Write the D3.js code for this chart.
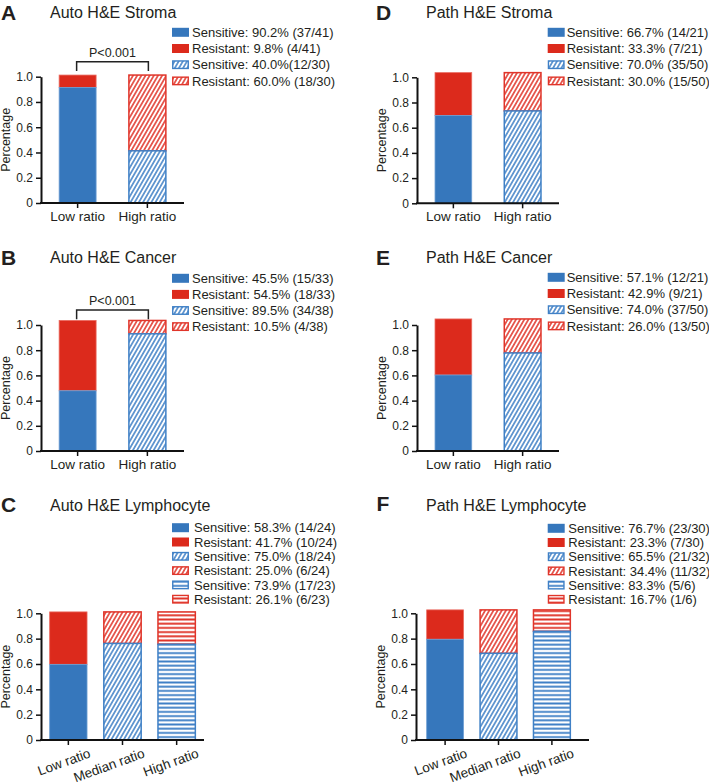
<!DOCTYPE html>
<html>
<head>
<meta charset="utf-8">
<script src="https://cdn.jsdelivr.net/npm/d3@7"></script>
<style>
  html, body { margin: 0; padding: 0; background: #ffffff; }
  svg { display: block; }
  text { font-family: "Liberation Sans", Arial, Helvetica, sans-serif; fill: #231f20; }
</style>
</head>
<body>
<svg id="chart" width="709" height="784"></svg>
<script>
// ---------------- DATA ----------------
const panelLetters = ["A", "B", "C", "D", "E", "F"];
const panelTitles = ["Auto H&E Stroma", "Auto H&E Cancer", "Auto H&E Lymphocyte",
                     "Path H&E Stroma", "Path H&E Cancer", "Path H&E Lymphocyte"];

const categoriesTwo = ["Low ratio", "High ratio"];
const categoriesThree = ["Low ratio", "Median ratio", "High ratio"];

// bar segment heights as drawn (fraction)
const sensitiveA = [0.915, 0.413];
const resistantA = [0.098, 0.600];
const sensitiveB = [0.478, 0.930];
const resistantB = [0.558, 0.106];
const sensitiveC = [0.597, 0.762, 0.756];
const resistantC = [0.414, 0.249, 0.255];
const sensitiveD = [0.697, 0.733];
const resistantD = [0.340, 0.304];
const sensitiveE = [0.603, 0.778];
const resistantE = [0.445, 0.270];
const sensitiveF = [0.795, 0.684, 0.858];
const resistantF = [0.232, 0.343, 0.169];

const legendA = ["Sensitive: 90.2% (37/41)", "Resistant: 9.8% (4/41)",
                 "Sensitive: 40.0%(12/30)", "Resistant: 60.0% (18/30)"];
const legendB = ["Sensitive: 45.5% (15/33)", "Resistant: 54.5% (18/33)",
                 "Sensitive: 89.5% (34/38)", "Resistant: 10.5% (4/38)"];
const legendC = ["Sensitive: 58.3% (14/24)", "Resistant: 41.7% (10/24)",
                 "Sensitive: 75.0% (18/24)", "Resistant: 25.0% (6/24)",
                 "Sensitive: 73.9% (17/23)", "Resistant: 26.1% (6/23)"];
const legendD = ["Sensitive: 66.7% (14/21)", "Resistant: 33.3% (7/21)",
                 "Sensitive: 70.0% (35/50)", "Resistant: 30.0% (15/50)"];
const legendE = ["Sensitive: 57.1% (12/21)", "Resistant: 42.9% (9/21)",
                 "Sensitive: 74.0% (37/50)", "Resistant: 26.0% (13/50)"];
const legendF = ["Sensitive: 76.7% (23/30)", "Resistant: 23.3% (7/30)",
                 "Sensitive: 65.5% (21/32)", "Resistant: 34.4% (11/32)",
                 "Sensitive: 83.3% (5/6)", "Resistant: 16.7% (1/6)"];

const yTicks = [0, 0.2, 0.4, 0.6, 0.8, 1.0];
const yTickLabels = ["0", "0.2", "0.4", "0.6", "0.8", "1.0"];
const yAxisTitle = "Percentage";
const pValueLabel = "P<0.001";

// ---------------- STYLE ----------------
const BLUE = "#3677bc";
const RED = "#dc2a1c";
const BLUE_LINE = "#3f80c6";
const RED_LINE = "#e0352a";

// ---------------- LAYOUT ----------------
const panels = [
  { letter: panelLetters[0], title: panelTitles[0], cats: categoriesTwo, sens: sensitiveA, res: resistantA, legend: legendA,
    letterPos: [1, 20], titlePos: [50, 18], axisX: 41, band: [41, 184], axisEnd: 184, y0: 203, y1: 76.7,
    legX: 172, legTextX: 192, legY: 32.3, legStep: 16.2, bracket: { y: 61.7, drop: 71, textY: 57 }, rotate: false },
  { letter: panelLetters[1], title: panelTitles[1], cats: categoriesTwo, sens: sensitiveB, res: resistantB, legend: legendB,
    letterPos: [1, 265], titlePos: [50, 263.3], axisX: 41, band: [41, 184], axisEnd: 184, y0: 451, y1: 325,
    legX: 172, legTextX: 192, legY: 278.3, legStep: 16.1, bracket: { y: 310, drop: 319.3, textY: 305 }, rotate: false },
  { letter: panelLetters[2], title: panelTitles[2], cats: categoriesThree, sens: sensitiveC, res: resistantC, legend: legendC,
    letterPos: [1, 511.5], titlePos: [50, 510.7], axisX: 41, band: [41, 204], axisEnd: 204, y0: 740, y1: 613.3,
    legX: 172, legTextX: 194, legY: 527.7, legStep: 14.3, bracket: null, rotate: true },
  { letter: panelLetters[3], title: panelTitles[3], cats: categoriesTwo, sens: sensitiveD, res: resistantD, legend: legendD,
    letterPos: [376, 20], titlePos: [426, 18], axisX: 417, band: [417, 559], axisEnd: 559, y0: 203.3, y1: 77.3,
    legX: 547.7, legTextX: 566.7, legY: 32.3, legStep: 16.2, bracket: null, rotate: false },
  { letter: panelLetters[4], title: panelTitles[4], cats: categoriesTwo, sens: sensitiveE, res: resistantE, legend: legendE,
    letterPos: [376, 265], titlePos: [426, 263], axisX: 417, band: [417, 559], axisEnd: 559, y0: 451, y1: 325,
    legX: 547.7, legTextX: 566.7, legY: 277.3, legStep: 16.2, bracket: null, rotate: false },
  { letter: panelLetters[5], title: panelTitles[5], cats: categoriesThree, sens: sensitiveF, res: resistantF, legend: legendF,
    letterPos: [376.5, 510.5], titlePos: [426, 510.7], axisX: 416, band: [416, 581], axisEnd: 589, y0: 740, y1: 613.3,
    legX: 547.7, legTextX: 568.3, legY: 528.3, legStep: 14.2, bracket: null, rotate: true }
];

const svg = d3.select("#chart");
svg.append("rect").attr("width", 709).attr("height", 784).attr("fill", "#fff");

// ---------------- PATTERNS ----------------
const defs = svg.append("defs");
function diagPattern(id, color) {
  const p = defs.append("pattern").attr("id", id).attr("patternUnits", "userSpaceOnUse")
    .attr("width", 3.6).attr("height", 8).attr("patternTransform", "rotate(30)");
  p.append("rect").attr("width", 3.6).attr("height", 8).attr("fill", "#fff");
  p.append("line").attr("x1", 1.8).attr("x2", 1.8).attr("y1", 0).attr("y2", 8)
    .attr("stroke", color).attr("stroke-width", 1.5);
}
function horizPattern(id, color) {
  const p = defs.append("pattern").attr("id", id).attr("patternUnits", "userSpaceOnUse")
    .attr("width", 8).attr("height", 4.2);
  p.append("rect").attr("width", 8).attr("height", 4.2).attr("fill", "#fff");
  p.append("line").attr("x1", 0).attr("x2", 8).attr("y1", 2.1).attr("y2", 2.1)
    .attr("stroke", color).attr("stroke-width", 1.9);
}
diagPattern("diagBlue", BLUE_LINE);
diagPattern("diagRed", RED_LINE);
horizPattern("horizBlue", BLUE_LINE);
horizPattern("horizRed", RED_LINE);

const styles = [
  { sensFill: BLUE, resFill: RED, sensStroke: "#6e9fd4", resStroke: "#ea6a5f", sw: 0.8 },
  { sensFill: "url(#diagBlue)", resFill: "url(#diagRed)", sensStroke: BLUE_LINE, resStroke: RED_LINE, sw: 1.5 },
  { sensFill: "url(#horizBlue)", resFill: "url(#horizRed)", sensStroke: BLUE_LINE, resStroke: RED_LINE, sw: 1.5 }
];

// ---------------- DRAW ----------------
panels.forEach(pn => {
  const g = svg.append("g");

  // letter + title
  g.append("text").attr("x", pn.letterPos[0]).attr("y", pn.letterPos[1])
    .attr("font-size", 21).attr("font-weight", "bold").text(pn.letter);
  g.append("text").attr("x", pn.titlePos[0]).attr("y", pn.titlePos[1])
    .attr("font-size", 16).text(pn.title);

  const x = d3.scaleBand().domain(pn.cats).range(pn.band)
    .paddingInner(pn.cats.length === 2 ? 0.47 : 0.31)
    .paddingOuter(pn.cats.length === 2 ? 0.26 : (pn.letter === "F" ? 0.2 : 0.16));
  const y = d3.scaleLinear().domain([0, 1]).range([pn.y0, pn.y1]);

  // bars
  pn.cats.forEach((c, i) => {
    const st = styles[i];
    const s = pn.sens[i], r = pn.res[i];
    g.append("rect").attr("x", x(c)).attr("width", x.bandwidth())
      .attr("y", y(s + r)).attr("height", y(s) - y(s + r))
      .attr("fill", st.resFill).attr("stroke", st.resStroke).attr("stroke-width", st.sw);
    g.append("rect").attr("x", x(c)).attr("width", x.bandwidth())
      .attr("y", y(s)).attr("height", y(0) - y(s))
      .attr("fill", st.sensFill).attr("stroke", st.sensStroke).attr("stroke-width", st.sw);
  });

  // y axis
  const ya = g.append("g").attr("transform", `translate(${pn.axisX},0)`)
    .call(d3.axisLeft(y).tickValues(yTicks).tickFormat((d, i) => yTickLabels[i])
      .tickSize(5).tickSizeOuter(0).tickPadding(3));
  ya.select(".domain").attr("stroke", "#111").attr("stroke-width", 2);
  ya.selectAll(".tick line").attr("stroke", "#111").attr("stroke-width", 1.5);
  ya.selectAll(".tick text").attr("font-size", 12).attr("fill", "#231f20");

  // y title
  g.append("text").attr("transform", `translate(${pn.axisX - 31.5},${(pn.y0 + pn.y1) / 2}) rotate(-90)`)
    .attr("text-anchor", "middle").attr("font-size", 12.5).text(yAxisTitle);

  // x axis
  const xa = g.append("g").attr("transform", `translate(0,${pn.y0})`)
    .call(d3.axisBottom(x).tickSize(5).tickSizeOuter(0).tickPadding(3.5));
  xa.select(".domain").remove();
  xa.selectAll(".tick line").attr("stroke", "#111").attr("stroke-width", 1.5);
  xa.selectAll(".tick text").attr("font-size", 13.5).attr("fill", "#231f20");
  if (pn.rotate) {
    xa.selectAll(".tick text")
      .attr("text-anchor", "end").attr("x", 0).attr("y", 0).attr("dy", 0)
      .attr("transform", "translate(23,17) rotate(-20)");
  }
  g.append("line").attr("x1", pn.axisX - 1).attr("x2", pn.axisEnd)
    .attr("y1", pn.y0).attr("y2", pn.y0).attr("stroke", "#111").attr("stroke-width", 2);

  // significance bracket
  if (pn.bracket) {
    const xa0 = x(pn.cats[0]) + x.bandwidth() / 2 - 1;
    const xa1 = x(pn.cats[1]) + x.bandwidth() / 2 + 1;
    g.append("path")
      .attr("d", `M${xa0},${pn.bracket.drop}V${pn.bracket.y}H${xa1}V${pn.bracket.drop}`)
      .attr("fill", "none").attr("stroke", "#222").attr("stroke-width", 1.5);
    g.append("text").attr("x", (xa0 + xa1) / 2).attr("y", pn.bracket.textY)
      .attr("text-anchor", "middle").attr("font-size", 12.5).text(pValueLabel);
  }

  // legend
  pn.legend.forEach((lab, j) => {
    const cy = pn.legY + j * pn.legStep;
    const st = styles[Math.floor(j / 2)];
    const isSens = j % 2 === 0;
    const solid = j < 2;
    g.append("rect").attr("x", pn.legX + (solid ? 0 : 0.75)).attr("y", cy - (solid ? 4.5 : 3.75))
      .attr("width", solid ? 17 : 15.5).attr("height", solid ? 9 : 7.5)
      .attr("fill", isSens ? st.sensFill : st.resFill)
      .attr("stroke", solid ? "none" : (isSens ? st.sensStroke : st.resStroke))
      .attr("stroke-width", solid ? 0 : 1.4);
    g.append("text").attr("x", pn.legTextX).attr("y", cy + 4.6)
      .attr("font-size", 13).text(lab);
  });
});
</script>
</body>
</html>
